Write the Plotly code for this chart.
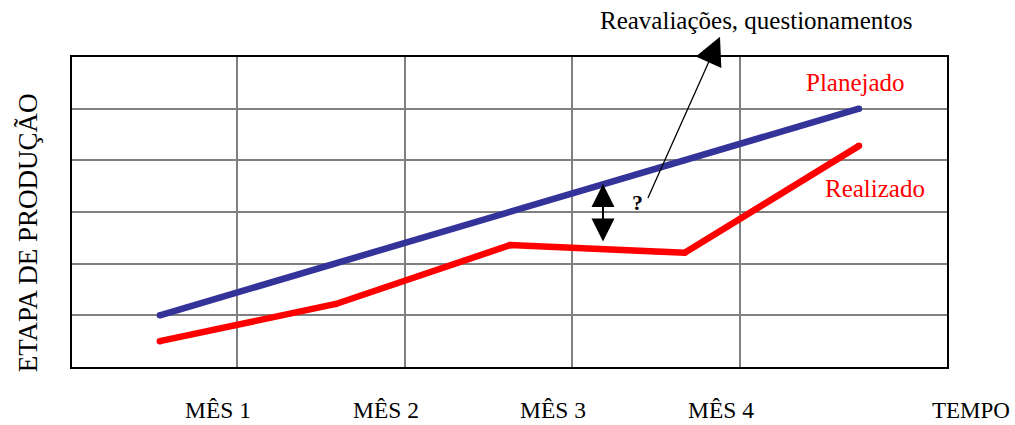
import plotly.graph_objects as go

# ---- data ----
months = ["MÊS 1", "MÊS 2", "MÊS 3", "MÊS 4"]
month_pos = [1, 2, 3, 4]
stage_ticks = [1, 2, 3, 4, 5]

plan_x = [0.54, 4.71]
plan_y = [1.0, 5.0]

real_x = [0.54, 1.59, 2.63, 3.67, 4.71]
real_y = [0.50, 1.22, 2.36, 2.21, 4.28]

FONT = "Liberation Serif"
BLUE = "#333399"
RED = "#FF0000"

fig = go.Figure()
fig.add_trace(go.Scatter(x=plan_x, y=plan_y, mode="lines+markers",
                         line=dict(color=BLUE, width=6.5),
                         marker=dict(color=BLUE, size=6.5), hoverinfo="skip",
                         showlegend=False))
fig.add_trace(go.Scatter(x=real_x, y=real_y, mode="lines+markers",
                         line=dict(color=RED, width=6.5),
                         marker=dict(color=RED, size=6.5), hoverinfo="skip",
                         showlegend=False))

C = dict(xanchor="center", yanchor="middle")
ann = []
# month labels
for m, p in zip(months, month_pos):
    ann.append(dict(x=p, y=-0.140, xref="x", yref="paper", text=m, showarrow=False,
                    xshift=-19, borderpad=0,
                    font=dict(family=FONT, size=23.5, color="black"), **C))
ann.append(dict(x=1.027, y=-0.140, xref="paper", yref="paper", text="TEMPO",
                showarrow=False, borderpad=0,
                font=dict(family=FONT, size=23, color="black"), **C))
ann.append(dict(x=-0.050, y=0.432, xref="paper", yref="paper", text="ETAPA DE PRODUÇÃO",
                textangle=-90, showarrow=False,
                font=dict(family=FONT, size=27, color="black"), **C))
ann.append(dict(x=4.69, y=5.50, xref="x", yref="y", text="Planejado", showarrow=False,
                font=dict(family=FONT, size=25, color=RED), **C))
ann.append(dict(x=4.805, y=3.46, xref="x", yref="y", text="Realizado", showarrow=False,
                font=dict(family=FONT, size=25, color=RED), **C))
ann.append(dict(x=3.386, y=3.19, xref="x", yref="y", text="<b>?</b>", showarrow=False,
                font=dict(family=FONT, size=22, color="black"), **C))
ann.append(dict(x=0.782, y=1.119, xref="paper", yref="paper",
                text="Reavaliações, questionamentos", showarrow=False,
                font=dict(family=FONT, size=25, color="black"), **C))
# double arrow
ann.append(dict(x=3.183, y=3.54, ax=3.183, ay=2.40, xref="x", yref="y",
                axref="x", ayref="y", text="", showarrow=True,
                arrowside="end+start", arrowhead=2, startarrowhead=2,
                arrowsize=2.3, startarrowsize=2.3, arrowwidth=2, arrowcolor="black",
                standoff=0, startstandoff=0))
# thin arrow to the text
ann.append(dict(x=3.451, y=3.27, ax=3.885, ay=6.42, xref="x", yref="y",
                axref="x", ayref="y", text="", showarrow=True,
                arrowside="start", startarrowhead=2, startarrowsize=4.3,
                arrowwidth=1.3, arrowcolor="black", standoff=0, startstandoff=0))

fig.update_layout(
    width=1015, height=425,
    margin=dict(l=72, r=68, t=57, b=58),
    paper_bgcolor="white", plot_bgcolor="white",
    annotations=ann,
    xaxis=dict(range=[0.016, 5.235], tickvals=month_pos, showticklabels=False,
               showgrid=True, gridcolor="#808080", gridwidth=2, zeroline=False,
               showline=True, linecolor="black", linewidth=2, mirror=True,
               ticks=""),
    yaxis=dict(range=[0, 6], tickvals=stage_ticks, showticklabels=False,
               showgrid=True, gridcolor="#808080", gridwidth=2, zeroline=False,
               showline=True, linecolor="black", linewidth=2, mirror=True,
               ticks=""),
)
fig.write_html("out.html",
               config={"displayModeBar": False},
               post_script="document.body.style.margin='0';"
                           "document.body.style.overflow='hidden';")
